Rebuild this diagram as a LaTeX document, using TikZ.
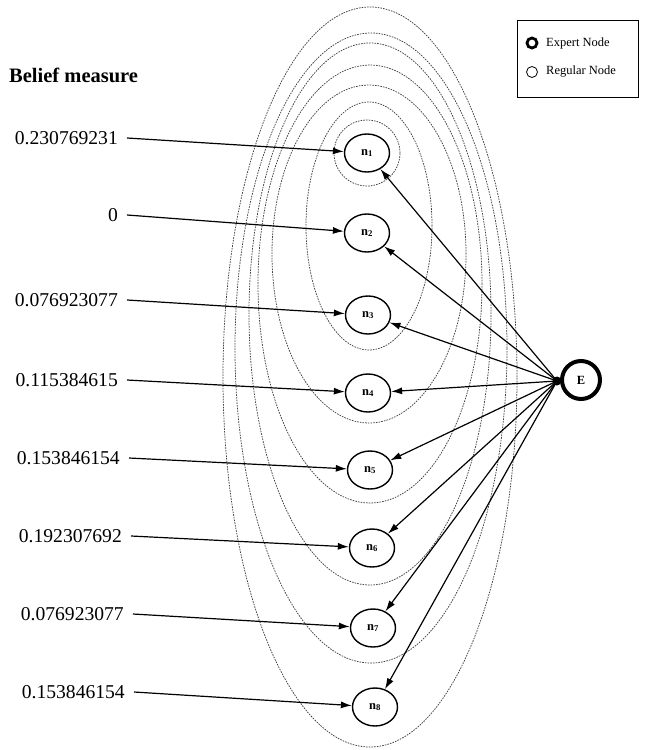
\documentclass[tikz,border=0pt]{standalone}
\usepackage{fontspec}
\setmainfont{Liberation Serif}
\usetikzlibrary{shapes.geometric,arrows.meta}
\begin{document}
\begin{tikzpicture}[x=1pt,y=-1pt,
  rnode/.style={draw, ellipse, fill=white, line width=1.4pt, minimum width=45pt, minimum height=38pt, inner sep=0pt, font=\bfseries\fontsize{12.5}{12}\selectfont},
  grp/.style={draw=black!75, line width=0.75pt, dash pattern=on 1.6pt off 1.1pt},
  arr/.style={line width=1.2pt, -{Latex[length=11pt,width=7pt]}},
  val/.style={anchor=east, inner sep=0pt, font=\fontsize{19.6}{20}\selectfont},
  legtxt/.style={anchor=west, inner sep=0pt, font=\fontsize{12.5}{13}\selectfont},
]
\useasboundingbox (0,0) rectangle (645,750);

% nested dashed groups
\draw[grp] (367,153) circle [radius=33pt];
\draw[grp] (369,226) ellipse [x radius=63pt, y radius=124pt];
\draw[grp] (369,254) ellipse [x radius=97pt, y radius=169pt];
\draw[grp] (370,284) ellipse [x radius=112pt, y radius=219pt];
\draw[grp] (370,314) ellipse [x radius=121pt, y radius=271pt];
\draw[grp] (371,348) ellipse [x radius=136pt, y radius=315pt];
\draw[grp] (370,377) ellipse [x radius=147pt, y radius=370pt];

% regular nodes
\node[rnode] (n1) at (367,153) {n\textsubscript{1}};
\node[rnode] (n2) at (367,233) {n\textsubscript{2}};
\node[rnode] (n3) at (368,315) {n\textsubscript{3}};
\node[rnode] (n4) at (368,393) {n\textsubscript{4}};
\node[rnode] (n5) at (370,470) {n\textsubscript{5}};
\node[rnode] (n6) at (372,548) {n\textsubscript{6}};
\node[rnode] (n7) at (373,628) {n\textsubscript{7}};
\node[rnode] (n8) at (375,707) {n\textsubscript{8}};

% expert node
\node[draw, circle, line width=4pt, minimum size=38pt, inner sep=0pt, font=\bfseries\fontsize{12.5}{12}\selectfont] (E) at (581,380) {E};
\node[fill, circle, inner sep=0pt, minimum size=9pt] (hub) at (557,381) {};

\foreach \i in {1,...,8} {
  \draw[arr] (hub.center) -- (n\i);
}

% belief measures
\node[anchor=west, inner sep=0pt, font=\bfseries\fontsize{20.5}{21}\selectfont] (bm) at (9,75) {Belief measure};
\node[val] (v1) at (118,138) {0.230769231};
\node[val] (v2) at (118,215) {0};
\node[val] (v3) at (118,300) {0.076923077};
\node[val] (v4) at (118,380) {0.115384615};
\node[val] (v5) at (120,458) {0.153846154};
\node[val] (v6) at (122,536) {0.192307692};
\node[val] (v7) at (124,614) {0.076923077};
\node[val] (v8) at (125,692) {0.153846154};

\foreach \i in {1,...,8} {
  \draw[arr] ([xshift=9pt]v\i.east) -- (n\i);
}

% legend
\node[draw, line width=1pt, minimum width=121pt, minimum height=77pt, inner sep=0pt] (leg) at (577.5,58.5) {};
\node[circle, draw, line width=2.8pt, minimum size=10pt, inner sep=0pt] (ex) at (532,43) {};
\node[legtxt] (ext) at (546,43) {Expert Node};
\node[circle, draw, line width=0.8pt, minimum size=11pt, inner sep=0pt] (rg) at (532,72) {};
\node[legtxt] (rgt) at (546,72) {Regular Node};
\end{tikzpicture}
\end{document}
